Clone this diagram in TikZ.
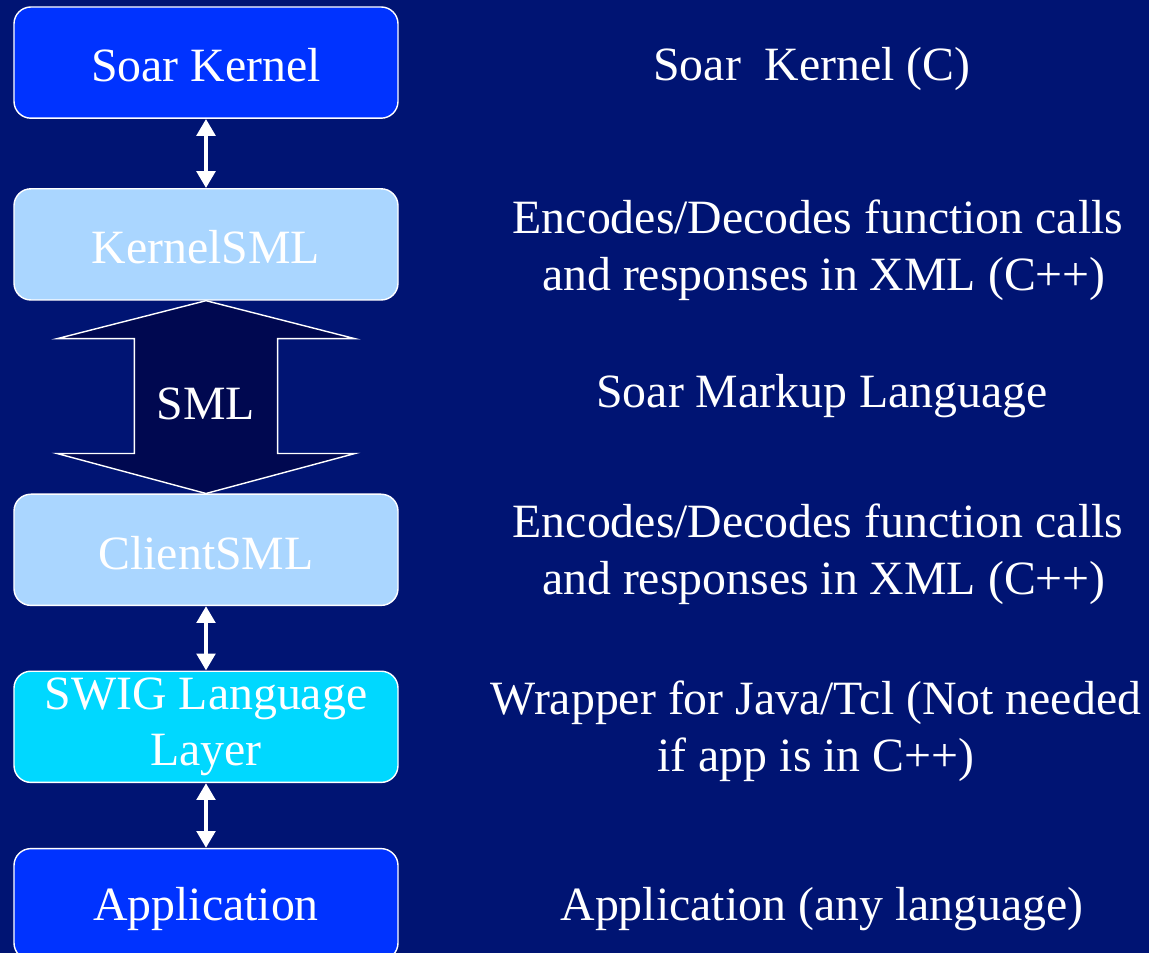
\documentclass[tikz,border=0pt]{standalone}
\usepackage{fontspec}
\setmainfont{Liberation Serif}
\usetikzlibrary{arrows.meta,positioning,calc}
\definecolor{bgnavy}{RGB}{0,20,115}
\definecolor{darknavy}{RGB}{0,8,80}
\definecolor{kblue}{RGB}{0,51,255}
\definecolor{lblue}{RGB}{170,214,255}
\definecolor{swigcyan}{RGB}{0,216,255}

\begin{document}
\begin{tikzpicture}[>={Triangle[width=13pt,length=12pt]},
	   font=\fontsize{34pt}{40.5pt}\selectfont, text=white,
	   box/.style={draw=white, line width=1pt, rounded corners=12pt, align=center, inner sep=0pt, minimum width=9.6cm, minimum height=2.78cm},
	   desc/.style={align=center},
	   link/.style={<->, draw=white, line width=3.2pt}]
	  \useasboundingbox (0,0) rectangle (28.725,23.825);
	  \fill[bgnavy] (0,0) rectangle (28.725,23.825);
	  % stack of layers
	  \node[box, fill=kblue] (kern) at (5.15,22.26) {\raisebox{-2pt}[\height][0pt]{Soar Kernel}};
	  \node[box, fill=lblue, below=1.73cm of kern] (ksml) {\raisebox{-2pt}[\height][0pt]{KernelSML}};
	  \node[box, fill=lblue, below=4.82cm of ksml] (csml) {\raisebox{-2pt}[\height][0pt]{ClientSML}};
	  \node[box, fill=swigcyan, below=1.61cm of csml] (swig) {SWIG Language\\ Layer};
	  \node[box, fill=kblue, below=1.62cm of swig] (app) {\raisebox{0pt}[\height][0pt]{Application}};
	  \draw[link] (kern)--(ksml); \draw[link] (csml)--(swig); \draw[link] (swig)--(app);
	  % SML double arrow
	  \draw[white, line width=1pt, fill=darknavy] (ksml.south) -- ++(3.725,-0.95) -- ++(-1.935,0)
	    -- ($(csml.north)+(1.79,1.0)$) -- ++(1.935,0) -- (csml.north) -- ++(-3.725,1.0) -- ++(1.935,0)
	    -- ($(ksml.south)+(-1.79,-0.95)$) -- ++(-1.935,0) -- cycle;
	  \node[yshift=-5pt] (sml) at ($(ksml.south)!0.5!(csml.north)$) {SML};
	  % descriptions
	  \node[desc] (dkern) at ($(kern)+(15.15,-0.15)$) {Soar~ Kernel (C)};
	  \node[desc] (dksml) at ($(ksml)+(15.3,-0.15)$) {Encodes/Decodes function calls\\ \ and responses in XML (C++)};
	  \node[desc] (dsml) at ($(sml)+(15.4,0.2)$) {Soar Markup Language};
	  \node[desc] (dcsml) at ($(csml)+(15.3,-0.1)$) {Encodes/Decodes function calls\\ \ and responses in XML (C++)};
	  \node[desc] (dswig) at ($(swig)+(15.25,-0.12)$) {Wrapper for Java/Tcl (Not needed\\ if app is in C++)};
	  \node[desc] (dapp) at ($(app)+(15.4,-0.13)$) {Application (any language)};
	\end{tikzpicture}
\end{document}
